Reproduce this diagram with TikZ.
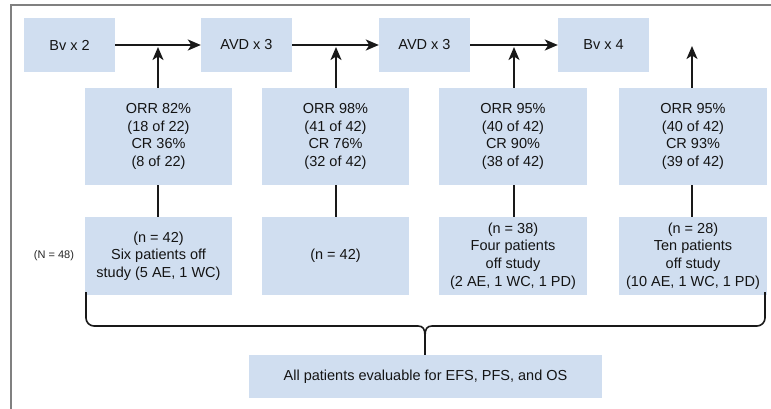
\documentclass[tikz,border=0pt]{standalone}
\usepackage{fontspec}
\setmainfont{Liberation Sans}
\usetikzlibrary{arrows.meta}
\definecolor{boxblue}{RGB}{208,222,240}
\definecolor{framegray}{RGB}{128,128,128}
\begin{document}
\begin{tikzpicture}[x=1pt,y=-1pt,
  bx/.style={fill=boxblue, draw=none, inner sep=0pt, align=center,
    font=\fontsize{14.5}{17.7}\selectfont, text=black!92},
  conn/.style={line width=1.8pt, draw=black!90},
  arr/.style={conn, -{Stealth[length=13pt,width=11pt,inset=3.5pt]}}]
\useasboundingbox (0,0) rectangle (771,409);
\fill[white] (0,0) rectangle (771,409);
% frame
\draw[framegray, line width=2.5pt] (11,420) -- (11,5) -- (780,5);
% top row
\node[bx, minimum width=91pt, minimum height=54pt] (b1) at (69.5,45) {Bv x 2};
\node[bx, minimum width=91pt, minimum height=54pt] (a1) at (246.5,45) {AVD x 3};
\node[bx, minimum width=91pt, minimum height=54pt] (a2) at (424.5,45) {AVD x 3};
\node[bx, minimum width=91pt, minimum height=54pt] (b4) at (603.5,45) {Bv x 4};
% response boxes
\node[bx, minimum width=147pt, minimum height=97pt] (r1) at (158.5,136.5) {ORR 82\%\\(18 of 22)\\CR 36\%\\(8 of 22)};
\node[bx, minimum width=147pt, minimum height=97pt] (r2) at (335.5,136.5) {ORR 98\%\\(41 of 42)\\CR 76\%\\(32 of 42)};
\node[bx, minimum width=148pt, minimum height=97pt] (r3) at (513,136.5) {ORR 95\%\\(40 of 42)\\CR 90\%\\(38 of 42)};
\node[bx, minimum width=148pt, minimum height=97pt] (r4) at (693,136.5) {ORR 95\%\\(40 of 42)\\CR 93\%\\(39 of 42)};
% count boxes
\node[bx, minimum width=147pt, minimum height=78pt] (n1) at (158.5,256) {(n = 42)\\Six patients off\\study (5 AE, 1 WC)};
\node[bx, minimum width=147pt, minimum height=78pt] (n2) at (335.5,256) {(n = 42)};
\node[bx, minimum width=148pt, minimum height=78pt] (n3) at (513,256) {(n = 38)\\Four patients\\off study\\(2 AE, 1 WC, 1 PD)};
\node[bx, minimum width=148pt, minimum height=78pt] (n4) at (693,256) {(n = 28)\\Ten patients\\off study\\(10 AE, 1 WC, 1 PD)};
\node[font=\fontsize{11}{13}\selectfont, text=black!85, inner sep=0pt] (N) at (54,256) {(N = 48)};
% bottom box
\node[bx, minimum width=353pt, minimum height=43pt] (all) at (425.5,376.5) {All patients evaluable for EFS, PFS, and OS};
% arrows
\coordinate (t4) at (692,46);
\draw[arr] (b1.east) -- (a1.west);
\draw[arr] (a1.east) -- (a2.west);
\draw[arr] (a2.east) -- (b4.west);
\draw[arr] (r1.north -| 158,0) -- (158,47);
\draw[arr] (r2.north -| 336,0) -- (336,47);
\draw[arr] (r3.north -| 514,0) -- (514,47);
\draw[arr] (r4.north -| 692,0) -- (t4);
\draw[conn] (r1.south -| 158,0) -- (n1.north -| 158,0);
\draw[conn] (r2.south -| 336,0) -- (n2.north -| 336,0);
\draw[conn] (r3.south -| 514,0) -- (n3.north -| 514,0);
\draw[conn] (r4.south -| 692,0) -- (n4.north -| 692,0);
% brace
\coordinate (bl) at (86,292);
\coordinate (br) at (765,292);
\draw[conn, line width=1.6pt, rounded corners=8pt] (bl) -- (86,326) -- (418,326);
\draw[conn, line width=1.6pt, rounded corners=8pt] (br) -- (765,326) -- (432,326);
\draw[conn, line width=1.6pt] (418,326) .. controls (423,326) and (425,329) .. (425,336) -- (all.north -| 425,0);
\draw[conn, line width=1.6pt] (432,326) .. controls (427,326) and (425,329) .. (425,336);
\end{tikzpicture}
\end{document}
